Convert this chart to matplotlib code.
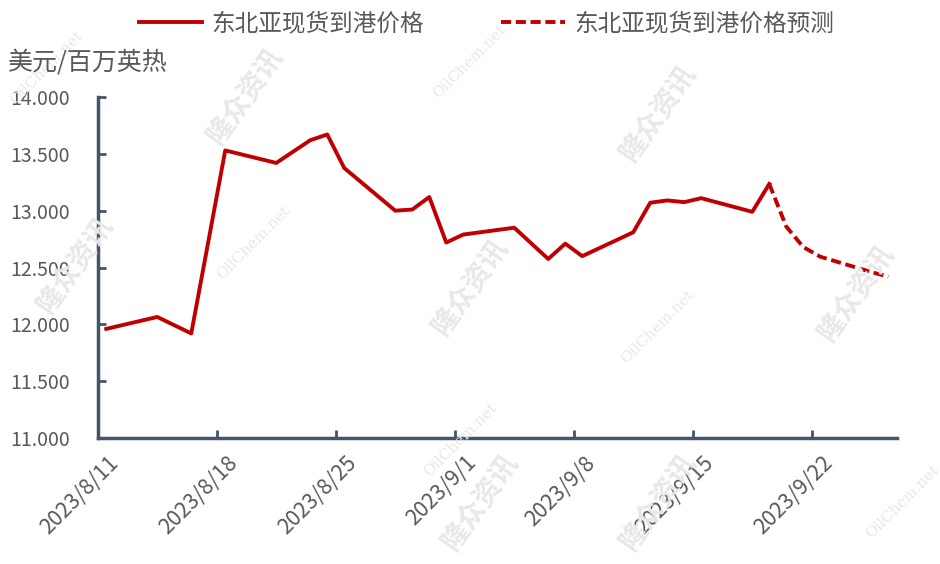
import pandas as pd
import matplotlib
matplotlib.use('Agg')
import matplotlib.pyplot as plt
import matplotlib.transforms as mtransforms
from matplotlib.ticker import FuncFormatter

plt.rcParams['font.family'] = ['Noto Sans CJK SC', 'DejaVu Sans']

actual_dates = ['2023-08-11', '2023-08-14', '2023-08-16', '2023-08-18', '2023-08-21',
                '2023-08-23', '2023-08-24', '2023-08-25', '2023-08-28', '2023-08-29',
                '2023-08-30', '2023-08-31', '2023-09-01', '2023-09-04', '2023-09-06',
                '2023-09-07', '2023-09-08', '2023-09-11', '2023-09-12', '2023-09-13',
                '2023-09-14', '2023-09-15', '2023-09-18', '2023-09-19']
actual_values = [11.96, 12.065, 11.92, 13.53, 13.42,
                 13.62, 13.67, 13.375, 13.00, 13.01,
                 13.12, 12.72, 12.79, 12.85, 12.575,
                 12.71, 12.60, 12.81, 13.07, 13.09,
                 13.075, 13.11, 12.99, 13.235]

forecast_dates = ['2023-09-19', '2023-09-20', '2023-09-21', '2023-09-22',
                  '2023-09-25', '2023-09-26']
forecast_values = [13.235, 12.86, 12.68, 12.595, 12.46, 12.42]

tick_dates = ['2023-08-11', '2023-08-18', '2023-08-25', '2023-09-01',
              '2023-09-08', '2023-09-15', '2023-09-22']
tick_labels = ['2023/8/11', '2023/8/18', '2023/8/25', '2023/9/1',
               '2023/9/8', '2023/9/15', '2023/9/22']

line_color = '#C00000'
axis_color = '#44546A'
text_color = '#595959'

# excel date axis puts each point in the middle of its day
half_day = pd.Timedelta(hours=12)
x_act = pd.to_datetime(actual_dates) + half_day
x_fc = pd.to_datetime(forecast_dates) + half_day

fig = plt.figure(figsize=(9.4, 5.64), dpi=100)
ax = fig.add_axes([0.104, 0.2234, 0.85, 0.6046])

# faint watermarks
wm = [(0.26, 0.83), (0.50, 0.49), (0.70, 0.80), (0.91, 0.48), (0.08, 0.53),
      (0.51, 0.11), (0.70, 0.11)]
for x, y in wm:
    fig.text(x, y, '隆众资讯', fontsize=20, fontweight='bold', color='#e8e8e8',
             rotation=55, ha='center', va='center', zorder=0)
wm2 = [(0.50, 0.89), (0.27, 0.57), (0.70, 0.42), (0.49, 0.22), (0.96, 0.11), (0.05, 0.88)]
for x, y in wm2:
    fig.text(x, y, 'OilChem.net', fontsize=11, family='DejaVu Serif', color='#e8e8e8',
             rotation=45, ha='center', va='center', zorder=0)

ax.plot(x_act, actual_values, color=line_color, linewidth=2.8, label='东北亚现货到港价格')
ax.plot(x_fc, forecast_values, color=line_color, linewidth=2.8, linestyle=(0, (2.6, 1.2)),
        label='东北亚现货到港价格预测')

ax.set_ylim(11.0, 14.0)
ax.set_yticks([11.0, 11.5, 12.0, 12.5, 13.0, 13.5, 14.0])
ax.yaxis.set_major_formatter(FuncFormatter(lambda v, p: '{:.3f}'.format(v)))
ax.set_xlim(pd.Timestamp('2023-08-11'), pd.Timestamp('2023-09-27'))
ax.set_xticks(pd.to_datetime(tick_dates))
ax.set_xticklabels(tick_labels, rotation=45, ha='right', rotation_mode='anchor')

for s in ['top', 'right']:
    ax.spines[s].set_visible(False)
for s in ['left', 'bottom']:
    ax.spines[s].set_color(axis_color)
    ax.spines[s].set_linewidth(2.5)
ax.tick_params(direction='in', length=6, width=2, color=axis_color, labelcolor=text_color)
ax.tick_params(axis='y', pad=20, labelsize=14)
ax.tick_params(axis='x', pad=10, labelsize=15.5)
shift = mtransforms.ScaledTranslation(10 / 100, 0, fig.dpi_scale_trans)
for lab in ax.get_xticklabels():
    lab.set_transform(lab.get_transform() + shift)

fig.text(0.008, 0.89, '美元/百万英热', fontsize=18, color=text_color, va='center')
fig.legend(loc='center', bbox_to_anchor=(0.5176, 0.958), ncol=2, frameon=False,
           fontsize=17, labelcolor=text_color, handlelength=2.7, handletextpad=0.4,
           columnspacing=3.26)

fig.savefig('out.png', dpi=100)
